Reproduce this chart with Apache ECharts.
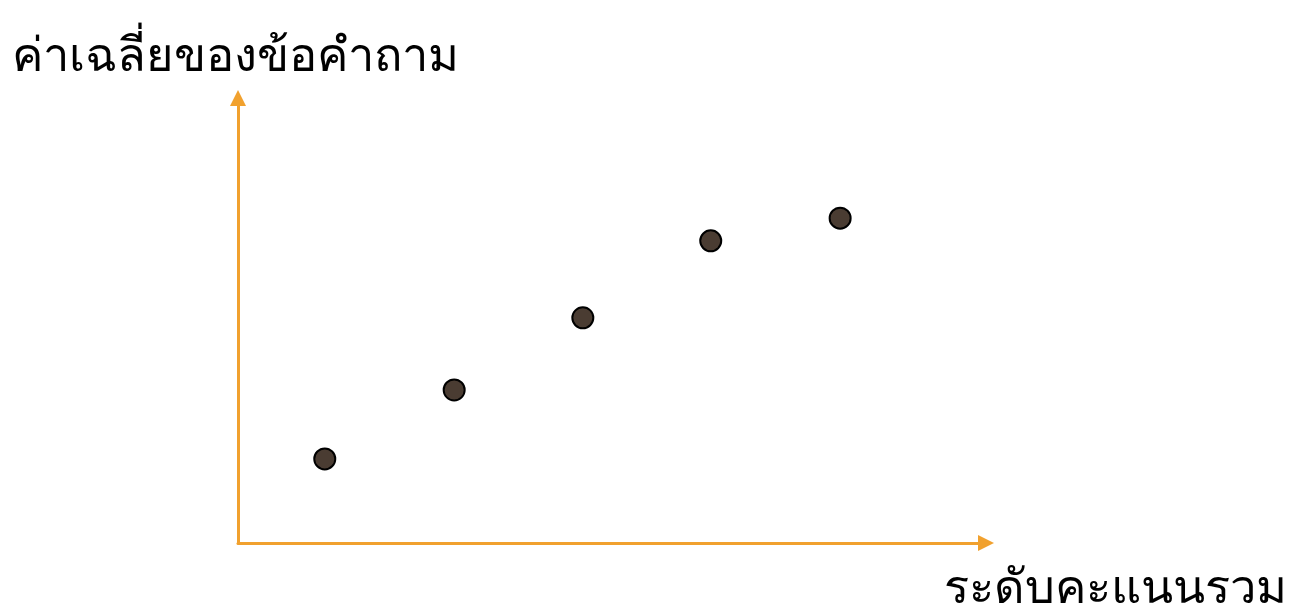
<!DOCTYPE html>
<html><head><meta charset="utf-8">
<script src="https://cdn.jsdelivr.net/npm/echarts@6/dist/echarts.min.js"></script>
<style>html,body{margin:0;padding:0;background:#fff}#c{width:1294px;height:610px}</style>
</head><body><div id="c"></div>
<script>
const xTitle = 'ระดับคะแนนรวม';
const yTitle = 'ค่าเฉลี่ยของข้อคำถาม';
const xValues = [1.16, 2.89, 4.61, 6.32, 8.05];
const yValues = [1.89, 3.44, 5.06, 6.79, 7.30];

const chart = echarts.init(document.getElementById('c'));
const axisCommon = {
  type: 'value', min: 0, max: 10,
  splitLine: {show: false}, axisTick: {show: false}, axisLabel: {show: false},
  axisLine: {show: true, symbol: ['none', 'triangle'], symbolSize: [16, 16], symbolOffset: [0, 0],
    lineStyle: {color: '#f1a12e', width: 3}}
};
chart.setOption({
  animation: false,
  title: [
    {text: yTitle, left: 7, top: 29, textStyle: {fontFamily: 'Noto Sans', fontSize: 47, fontWeight: 300, color: '#000'}},
    {text: xTitle, right: 2, bottom: -8, textStyle: {fontFamily: 'Noto Sans', fontSize: 47, fontWeight: 300, color: '#000'}}
  ],
  grid: {left: 238, right: 308, top: 98, bottom: 67},
  xAxis: Object.assign({}, axisCommon),
  yAxis: Object.assign({}, axisCommon),
  series: [{
    type: 'scatter', symbolSize: 21,
    data: xValues.map((x, i) => [x, yValues[i]]),
    itemStyle: {color: '#4a3c32', borderColor: '#000', borderWidth: 2, opacity: 1}
  }]
});
</script></body></html>
